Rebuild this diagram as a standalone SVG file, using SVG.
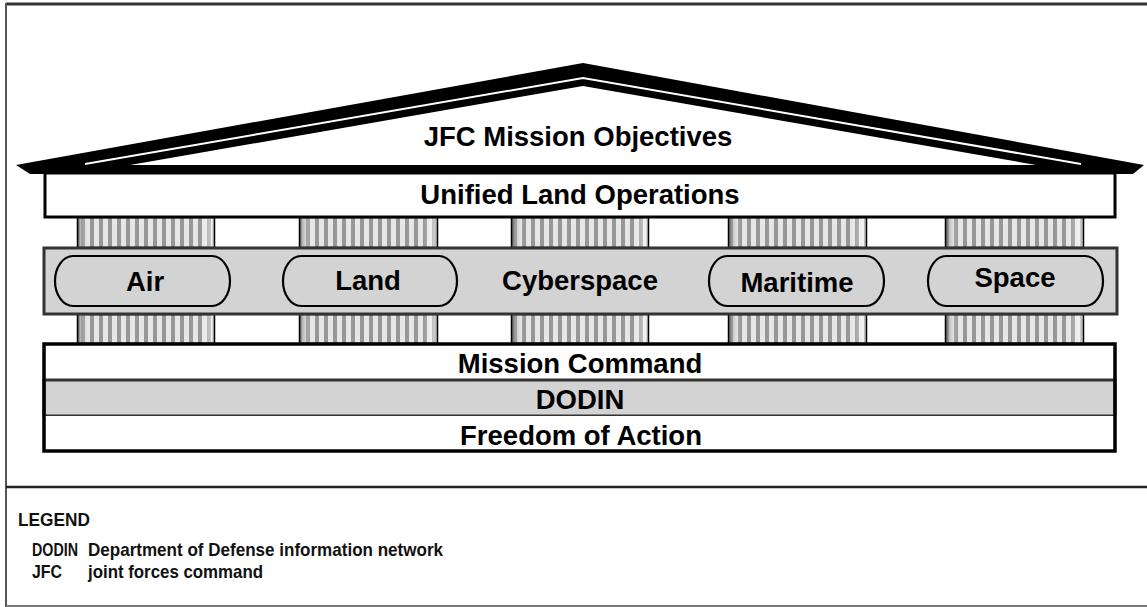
<svg xmlns="http://www.w3.org/2000/svg" width="1147" height="607" viewBox="0 0 1147 607">
<style>
.t{font-family:"Liberation Sans",Arial,Helvetica,sans-serif;font-weight:bold;font-size:27.5px;fill:#000;text-anchor:middle}
.lg{font-family:"Liberation Sans Narrow","Liberation Sans",Arial,sans-serif;font-weight:bold;font-size:18.5px;fill:#111}
.box{fill:#fff;stroke:#000;stroke-width:3}
.cap{fill:none;stroke:#000;stroke-width:2.2}
.pil{fill:url(#stripes);stroke:#000;stroke-width:2.5}
.sh{fill:url(#shade)}
</style>
<defs>
<pattern id="stripes" x="0" y="0" width="9" height="10" patternUnits="userSpaceOnUse">
<rect width="9" height="10" fill="#e6e6e6"/>
<rect x="0" width="4" height="10" fill="#979797"/>
</pattern>
<linearGradient id="shade" x1="0" y1="0" x2="1" y2="0">
<stop offset="0" stop-color="#777" stop-opacity="0.7"/>
<stop offset="0.09" stop-color="#fff" stop-opacity="0"/>
<stop offset="0.9" stop-color="#fff" stop-opacity="0"/>
<stop offset="1" stop-color="#fff" stop-opacity="0.6"/>
</linearGradient>
</defs>

<g id="frame" fill="none">
<line x1="6" y1="4" x2="1147" y2="4" stroke="#333" stroke-width="3"/>
<line x1="6" y1="3" x2="6" y2="607" stroke="#555" stroke-width="2"/>
<line x1="6" y1="487" x2="1147" y2="487" stroke="#222" stroke-width="2.5"/>
<line x1="6" y1="606" x2="1147" y2="606" stroke="#777" stroke-width="2"/>
</g>

<g id="pillars">
<rect class="pil" x="78" y="217" width="136" height="31"/><rect class="sh" x="78" y="217" width="136" height="31"/>
<rect class="pil" x="300" y="217" width="137" height="31"/><rect class="sh" x="300" y="217" width="137" height="31"/>
<rect class="pil" x="512" y="217" width="136" height="31"/><rect class="sh" x="512" y="217" width="136" height="31"/>
<rect class="pil" x="729" y="217" width="137" height="31"/><rect class="sh" x="729" y="217" width="137" height="31"/>
<rect class="pil" x="946" y="217" width="137" height="31"/><rect class="sh" x="946" y="217" width="137" height="31"/>
<rect class="pil" x="78" y="314" width="136" height="30"/><rect class="sh" x="78" y="314" width="136" height="30"/>
<rect class="pil" x="300" y="314" width="137" height="30"/><rect class="sh" x="300" y="314" width="137" height="30"/>
<rect class="pil" x="512" y="314" width="136" height="30"/><rect class="sh" x="512" y="314" width="136" height="30"/>
<rect class="pil" x="729" y="314" width="137" height="30"/><rect class="sh" x="729" y="314" width="137" height="30"/>
<rect class="pil" x="946" y="314" width="137" height="30"/><rect class="sh" x="946" y="314" width="137" height="30"/>
</g>

<g id="roof">
<polygon points="16,165 583,63 1144,165 1133,174 30,174" fill="#000"/>
<polygon points="130,165 583,86 1036,165" fill="#fff"/>
<polyline points="85,164 583,78 1081,164" fill="none" stroke="#fff" stroke-width="2"/>
<text class="t" x="578" y="146">JFC Mission Objectives</text>
</g>

<g id="unified">
<rect class="box" x="45" y="173" width="1070" height="44"/>
<text class="t" x="580" y="204">Unified Land Operations</text>
</g>

<g id="domains">
<rect x="44" y="248" width="1073" height="66" fill="#d3d3d3" stroke="#333" stroke-width="3"/>
</g>
<g id="air">
<rect class="cap" x="55" y="256" width="175" height="50" rx="18" ry="25"/>
<text class="t" x="145" y="291">Air</text>
</g>
<g id="land">
<rect class="cap" x="283" y="256" width="174" height="50" rx="18" ry="25"/>
<text class="t" x="368" y="290">Land</text>
</g>
<g id="cyberspace">
<text class="t" x="580" y="290">Cyberspace</text>
</g>
<g id="maritime">
<rect class="cap" x="709" y="256" width="175" height="50" rx="18" ry="25"/>
<text class="t" x="797" y="292">Maritime</text>
</g>
<g id="space">
<rect class="cap" x="928" y="256" width="175" height="50" rx="18" ry="25"/>
<text class="t" x="1015" y="287">Space</text>
</g>

<g id="mission-command">
<rect x="44" y="344" width="1071" height="36" fill="#fff"/>
<text class="t" x="580" y="373">Mission Command</text>
</g>
<g id="dodin">
<rect x="44" y="380" width="1071" height="36" fill="#d3d3d3" stroke="#333" stroke-width="3"/>
<text class="t" x="580" y="409">DODIN</text>
</g>
<g id="freedom">
<rect x="44" y="416" width="1071" height="35" fill="#fff"/>
<text class="t" x="581" y="445">Freedom of Action</text>
</g>
<rect x="44" y="344" width="1071" height="107" fill="none" stroke="#000" stroke-width="3.5"/>

<g id="legend">
<text class="lg" x="18" y="526" textLength="72" lengthAdjust="spacingAndGlyphs">LEGEND</text>
<text class="lg" x="32" y="556" textLength="46" lengthAdjust="spacingAndGlyphs">DODIN</text>
<text class="lg" x="88" y="556" textLength="355" lengthAdjust="spacingAndGlyphs">Department of Defense information network</text>
<text class="lg" x="32" y="578" textLength="30" lengthAdjust="spacingAndGlyphs">JFC</text>
<text class="lg" x="88" y="578" textLength="175" lengthAdjust="spacingAndGlyphs">joint forces command</text>
</g>
</svg>
